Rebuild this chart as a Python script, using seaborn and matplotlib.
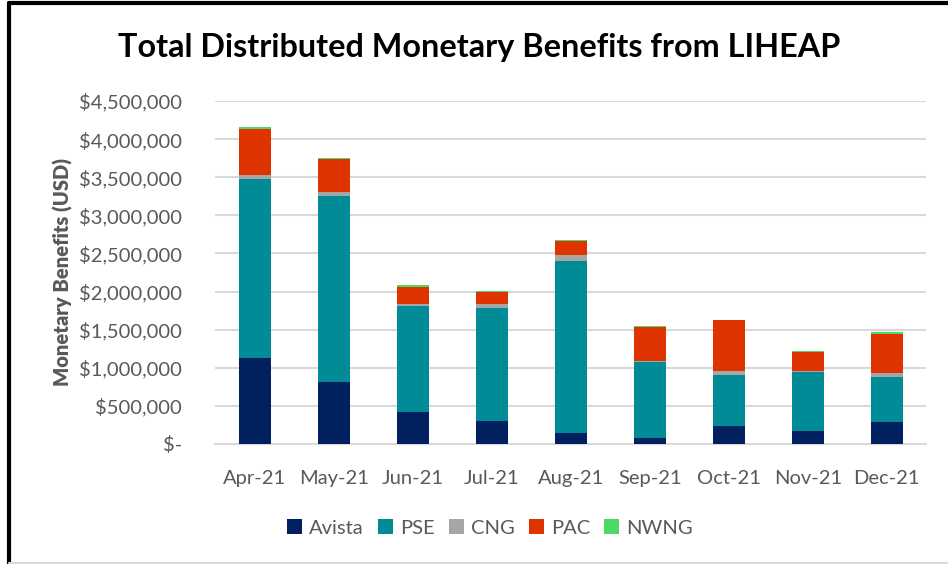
import numpy as np
import pandas as pd
import matplotlib.pyplot as plt
import seaborn as sns
from matplotlib.patches import Patch
from matplotlib.lines import Line2D
from matplotlib.ticker import FuncFormatter

months = ["Apr-21", "May-21", "Jun-21", "Jul-21", "Aug-21",
          "Sep-21", "Oct-21", "Nov-21", "Dec-21"]
avista = [1130000, 810000, 415000, 300000, 140000, 75000, 235000, 170000, 290000]
pse = [2340000, 2440000, 1390000, 1490000, 2260000, 1000000, 670000, 775000, 585000]
cng = [60000, 50000, 30000, 45000, 85000, 14000, 53000, 17000, 53000]
pac = [600000, 440000, 230000, 155000, 175000, 440000, 670000, 240000, 520000]
nwng = [22000, 13000, 20000, 13000, 17000, 18000, 3000, 18000, 17000]

series = ["Avista", "PSE", "CNG", "PAC", "NWNG"]
colors = ["#002060", "#008B96", "#A6A6A6", "#E03400", "#4CD964"]

data = pd.DataFrame({"month": months, "Avista": avista, "PSE": pse,
                     "CNG": cng, "PAC": pac, "NWNG": nwng})

sns.set_style("white")
plt.rcParams['font.family'] = ['Lato', 'DejaVu Sans']

fig = plt.figure(figsize=(9.48, 5.64), dpi=100)
ax = fig.add_axes([0.227, 0.2128, 0.75, 0.6082])

bottom = np.zeros(len(months))
for name, col in zip(series, colors):
    sns.barplot(data=data, x="month", y=name, color=col, width=0.41,
                bottom=bottom, ax=ax, zorder=3, saturation=1, linewidth=0)
    bottom = bottom + data[name].values

ax.set_ylim(0, 4500000)
ax.set_xlim(-0.5, len(months) - 0.5)
ax.set_yticks(np.arange(0, 4500001, 500000))
ax.yaxis.set_major_formatter(FuncFormatter(
    lambda v, p: "$-" if v == 0 else "${:,.0f}".format(v)))
ax.grid(axis="y", color="#D9D9D9", linewidth=1.5, zorder=0)
ax.set_axisbelow(True)
for s in ["top", "right", "left"]:
    ax.spines[s].set_visible(False)
ax.spines["bottom"].set_color("#D9D9D9")
ax.spines["bottom"].set_linewidth(1.5)
ax.tick_params(axis="both", length=0, labelsize=14.5, labelcolor="#595959")
ax.tick_params(axis="x", pad=19)
ax.tick_params(axis="y", pad=24)
ax.set_xlabel("")
ax.set_ylabel("Monetary Benefits (USD)", fontsize=14.5, fontweight="heavy",
              color="#595959", labelpad=4)

fig.text(0.505, 0.915, "Total Distributed Monetary Benefits from LIHEAP",
         ha="center", va="center", fontsize=23.3, fontweight="bold", color="black")

handles = [Patch(facecolor=c, edgecolor="none") for c in colors]
fig.legend(handles, series, loc="center", bbox_to_anchor=(0.517, 0.064),
           ncol=5, frameon=False, fontsize=14.5, labelcolor="#595959",
           handlelength=0.75, handleheight=0.75, handletextpad=0.35,
           columnspacing=0.7)

# outer frame
fig.add_artist(Line2D([0.009, 1.0], [0.995, 0.995], color="black", lw=3,
                      transform=fig.transFigure))
fig.add_artist(Line2D([0.0095, 0.0095], [0.0, 0.995], color="black", lw=3,
                      transform=fig.transFigure))
fig.add_artist(Line2D([0.009, 1.0], [0.002, 0.002], color="#D9D9D9", lw=1.5,
                      transform=fig.transFigure))

fig.savefig("out.png", dpi=100)
